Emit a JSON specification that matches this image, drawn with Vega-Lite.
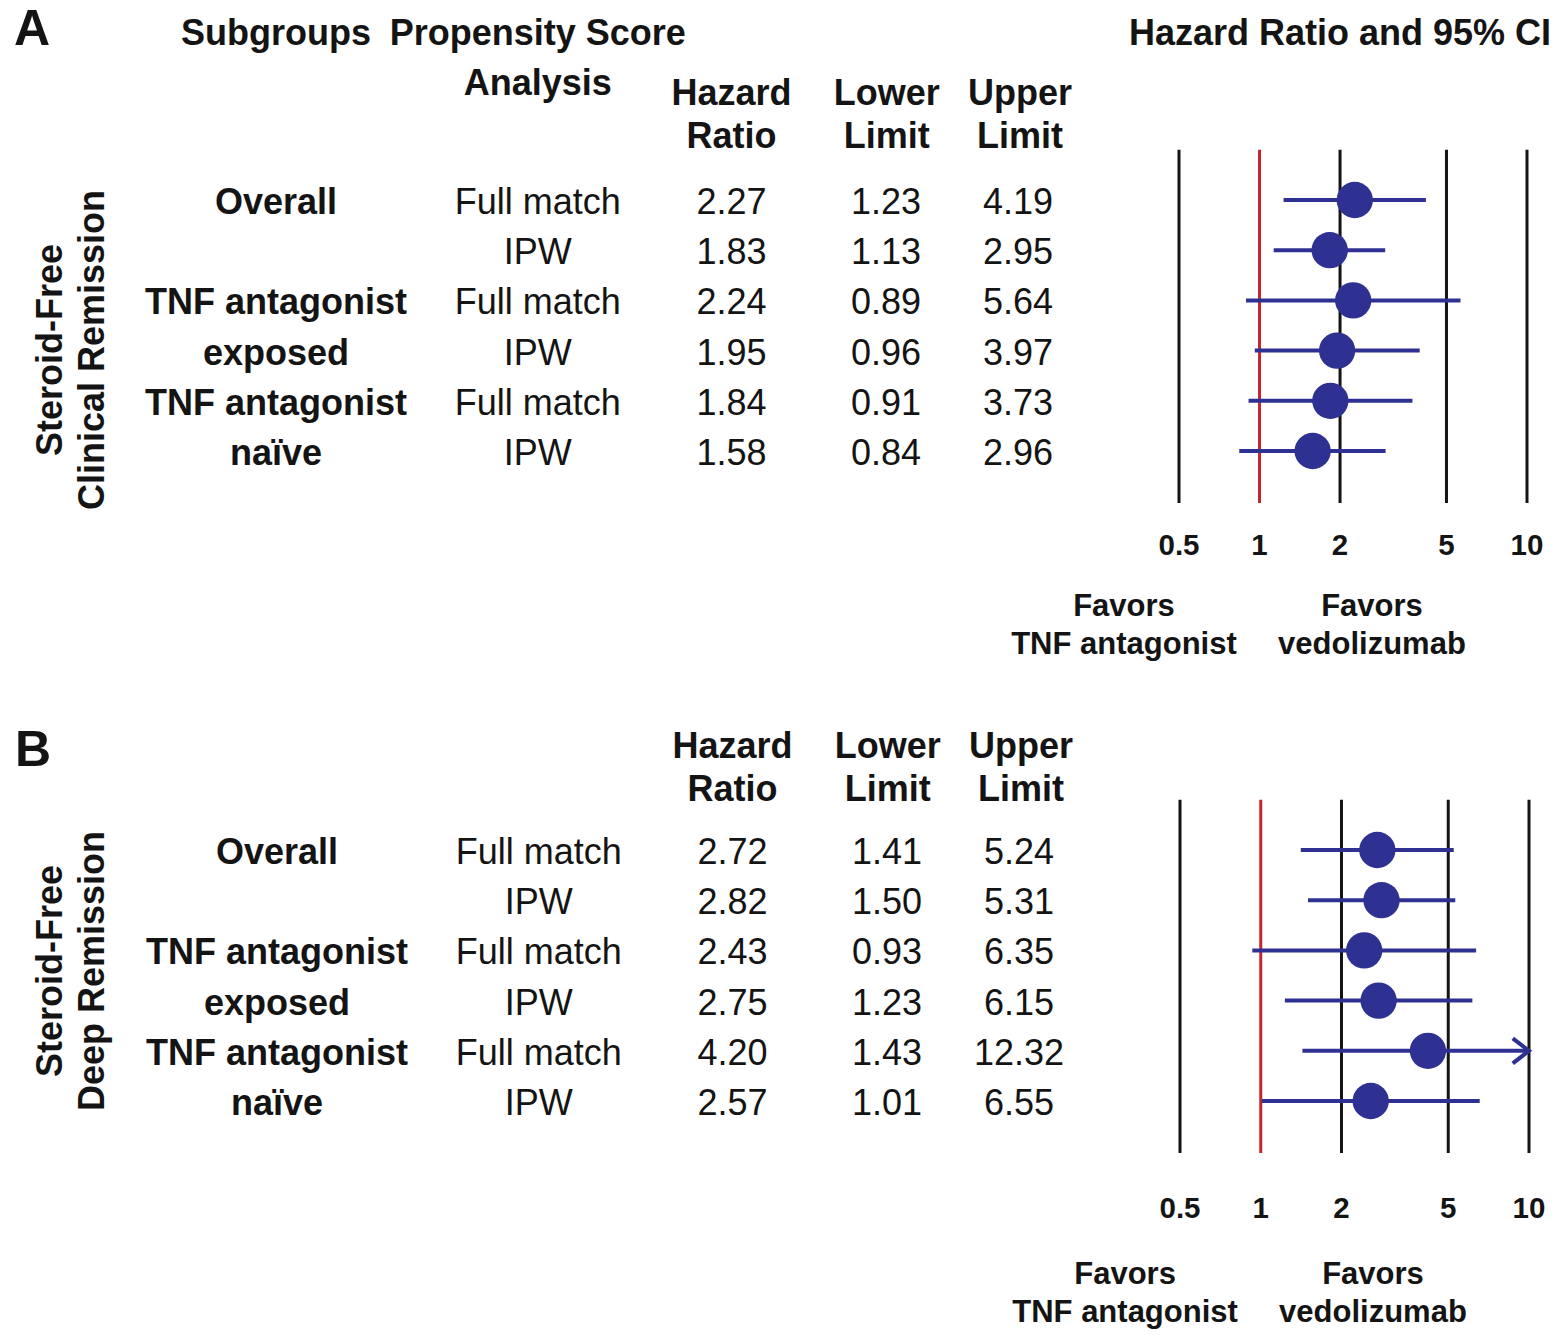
{
  "$schema": "https://vega.github.io/schema/vega-lite/v6.json",
  "padding": 0,
  "background": "#ffffff",
  "spacing": 0,
  "config": {
    "view": {"stroke": null},
    "font": "Liberation Sans",
    "text": {"font": "Liberation Sans", "color": "#141414", "dy": 3, "align": "center", "baseline": "middle"}
  },
  "datasets": {
    "A": [
      {"row": 1, "label": "Overall", "ana": "Full match", "hr": 2.27, "lo": 1.23, "up": 4.19},
      {"row": 2, "label": "", "ana": "IPW", "hr": 1.83, "lo": 1.13, "up": 2.95},
      {"row": 3, "label": "TNF antagonist", "ana": "Full match", "hr": 2.24, "lo": 0.89, "up": 5.64},
      {"row": 4, "label": "exposed", "ana": "IPW", "hr": 1.95, "lo": 0.96, "up": 3.97},
      {"row": 5, "label": "TNF antagonist", "ana": "Full match", "hr": 1.84, "lo": 0.91, "up": 3.73},
      {"row": 6, "label": "naïve", "ana": "IPW", "hr": 1.58, "lo": 0.84, "up": 2.96}
    ],
    "B": [
      {"row": 1, "label": "Overall", "ana": "Full match", "hr": 2.72, "lo": 1.41, "up": 5.24},
      {"row": 2, "label": "", "ana": "IPW", "hr": 2.82, "lo": 1.50, "up": 5.31},
      {"row": 3, "label": "TNF antagonist", "ana": "Full match", "hr": 2.43, "lo": 0.93, "up": 6.35},
      {"row": 4, "label": "exposed", "ana": "IPW", "hr": 2.75, "lo": 1.23, "up": 6.15},
      {"row": 5, "label": "TNF antagonist", "ana": "Full match", "hr": 4.20, "lo": 1.43, "up": 12.32},
      {"row": 6, "label": "naïve", "ana": "IPW", "hr": 2.57, "lo": 1.01, "up": 6.55}
    ],
    "ticks": [
      {"v": 0.5, "lab": "0.5"},
      {"v": 1, "lab": "1"},
      {"v": 2, "lab": "2"},
      {"v": 5, "lab": "5"},
      {"v": 10, "lab": "10"}
    ]
  },
  "resolve": {"scale": {"x": "independent", "y": "independent"}},
  "vconcat": [
    {
      "width": 1560,
      "height": 670,
      "resolve": {"scale": {"x": "independent"}},
      "layer": [
        {
          "data": {"name": "A"},
          "layer": [
            {"mark": {"type": "text", "fontWeight": "bold", "fontSize": 36},
             "encoding": {"x": {"datum": "Subgroups", "type": "nominal", "scale": {"type": "point", "domain": ["Subgroups", "Analysis", "Hazard Ratio", "Lower Limit", "Upper Limit"], "range": [276, 1019], "padding": 0}, "axis": null},
                          "y": {"field": "row", "type": "quantitative", "scale": {"domain": [1, 6], "range": [200, 451], "zero": false, "nice": false}, "axis": null},
                          "text": {"field": "label"}}},
            {"mark": {"type": "text", "fontSize": 36, "dx": 76},
             "encoding": {"x": {"datum": "Analysis", "type": "nominal", "axis": null},
                          "y": {"field": "row", "type": "quantitative", "axis": null},
                          "text": {"field": "ana"}}},
            {"mark": {"type": "text", "fontSize": 36, "dx": 84},
             "encoding": {"x": {"datum": "Hazard Ratio", "type": "nominal", "axis": null},
                          "y": {"field": "row", "type": "quantitative", "axis": null},
                          "text": {"field": "hr", "type": "quantitative", "format": ".2f"}}},
            {"mark": {"type": "text", "fontSize": 36, "dx": 52.75},
             "encoding": {"x": {"datum": "Lower Limit", "type": "nominal", "axis": null},
                          "y": {"field": "row", "type": "quantitative", "axis": null},
                          "text": {"field": "lo", "type": "quantitative", "format": ".2f"}}},
            {"mark": {"type": "text", "fontSize": 36, "dx": -1},
             "encoding": {"x": {"datum": "Upper Limit", "type": "nominal", "axis": null},
                          "y": {"field": "row", "type": "quantitative", "axis": null},
                          "text": {"field": "up", "type": "quantitative", "format": ".2f"}}},
            {"data": {"values": [{}]},
             "mark": {"type": "text", "fontWeight": "bold", "fontSize": 36},
             "encoding": {"x": {"datum": "Subgroups", "type": "nominal", "axis": null},
                          "y": {"datum": -2.367, "type": "quantitative", "axis": null},
                          "text": {"value": "Subgroups"}}},
            {"data": {"values": [{}]},
             "mark": {"type": "text", "fontWeight": "bold", "fontSize": 36, "dx": 76, "lineHeight": 50},
             "encoding": {"x": {"datum": "Analysis", "type": "nominal", "axis": null},
                          "y": {"datum": -2.367, "type": "quantitative", "axis": null},
                          "text": {"value": ["Propensity Score", "Analysis"]}}},
            {"data": {"values": [{}]},
             "mark": {"type": "text", "fontWeight": "bold", "fontSize": 36, "dx": 84, "lineHeight": 43},
             "encoding": {"x": {"datum": "Hazard Ratio", "type": "nominal", "axis": null},
                          "y": {"datum": -1.173, "type": "quantitative", "axis": null},
                          "text": {"value": ["Hazard", "Ratio"]}}},
            {"data": {"values": [{}]},
             "mark": {"type": "text", "fontWeight": "bold", "fontSize": 36, "dx": 53.5, "lineHeight": 43},
             "encoding": {"x": {"datum": "Lower Limit", "type": "nominal", "axis": null},
                          "y": {"datum": -1.173, "type": "quantitative", "axis": null},
                          "text": {"value": ["Lower", "Limit"]}}},
            {"data": {"values": [{}]},
             "mark": {"type": "text", "fontWeight": "bold", "fontSize": 36, "dx": 1, "lineHeight": 43},
             "encoding": {"x": {"datum": "Upper Limit", "type": "nominal", "axis": null},
                          "y": {"datum": -1.173, "type": "quantitative", "axis": null},
                          "text": {"value": ["Upper", "Limit"]}}},
            {"data": {"values": [{}]},
             "mark": {"type": "text", "fontWeight": "bold", "fontSize": 50, "dx": -244},
             "encoding": {"x": {"datum": "Subgroups", "type": "nominal", "axis": null},
                          "y": {"datum": -2.44, "type": "quantitative", "axis": null},
                          "text": {"value": "A"}}},
            {"data": {"values": [{}]},
             "mark": {"type": "text", "fontWeight": "bold", "fontSize": 36, "angle": 270, "dy": -225, "lineHeight": 42},
             "encoding": {"x": {"datum": "Subgroups", "type": "nominal", "axis": null},
                          "y": {"datum": 3.988, "type": "quantitative", "axis": null},
                          "text": {"value": ["Steroid-Free", "Clinical Remission"]}}}
          ]
        },
        {
          "layer": [
            {"data": {"name": "ticks"},
             "mark": {"type": "rule", "strokeWidth": 3},
             "encoding": {"x": {"field": "v", "type": "quantitative", "scale": {"type": "log", "domain": [0.5, 10], "range": [1179, 1527], "nice": false}, "axis": null},
                          "y": {"datum": 0, "type": "quantitative", "axis": null},
                          "y2": {"datum": 7.036},
                          "color": {"condition": {"test": "datum.v === 1", "value": "#c1272d"}, "value": "#141414"}}},
            {"data": {"name": "ticks"},
             "mark": {"type": "text", "fontWeight": "bold", "fontSize": 29.5},
             "encoding": {"x": {"field": "v", "type": "quantitative", "axis": null},
                          "y": {"datum": 7.83, "type": "quantitative", "axis": null},
                          "text": {"field": "lab"}}},
            {"data": {"values": [{}]},
             "mark": {"type": "text", "fontWeight": "bold", "fontSize": 36},
             "encoding": {"x": {"datum": 2, "type": "quantitative", "axis": null},
                          "y": {"datum": -2.367, "type": "quantitative", "axis": null},
                          "text": {"value": "Hazard Ratio and 95% CI"}}},
            {"data": {"values": [{}]},
             "mark": {"type": "text", "fontWeight": "bold", "fontSize": 31, "lineHeight": 38},
             "encoding": {"x": {"datum": 0.3113, "type": "quantitative", "axis": null},
                          "y": {"datum": 9.05, "type": "quantitative", "axis": null},
                          "text": {"value": ["Favors", "TNF antagonist"]}}},
            {"data": {"values": [{}]},
             "mark": {"type": "text", "fontWeight": "bold", "fontSize": 31, "lineHeight": 38},
             "encoding": {"x": {"datum": 2.633, "type": "quantitative", "axis": null},
                          "y": {"datum": 9.05, "type": "quantitative", "axis": null},
                          "text": {"value": ["Favors", "vedolizumab"]}}}
          ]
        },
        {
          "data": {"name": "A"},
          "layer": [
            {"mark": {"type": "rule", "color": "#2e3192", "strokeWidth": 4},
             "encoding": {"x": {"field": "lo", "type": "quantitative", "scale": {"type": "log", "domain": [0.5, 10], "range": [1179, 1527], "nice": false, "clamp": true}, "axis": null},
                          "x2": {"field": "up"},
                          "y": {"field": "row", "type": "quantitative", "axis": null}}},
            {"transform": [{"filter": "datum.up > 10"}],
             "mark": {"type": "point", "shape": "M-1.3,-1L0,0L-1.3,1", "filled": false, "size": 625, "stroke": "#2e3192", "strokeWidth": 4, "opacity": 1},
             "encoding": {"x": {"field": "up", "type": "quantitative", "axis": null},
                          "y": {"field": "row", "type": "quantitative", "axis": null}}},
            {"mark": {"type": "circle", "size": 1320, "opacity": 1, "color": "#2e3192"},
             "encoding": {"x": {"field": "hr", "type": "quantitative", "axis": null},
                          "y": {"field": "row", "type": "quantitative", "axis": null}}}
          ]
        }
      ]
    },
    {
      "width": 1560,
      "height": 669,
      "resolve": {"scale": {"x": "independent"}},
      "layer": [
        {
          "data": {"name": "B"},
          "layer": [
            {"mark": {"type": "text", "fontWeight": "bold", "fontSize": 36},
             "encoding": {"x": {"datum": "Subgroups", "type": "nominal", "scale": {"type": "point", "domain": ["Subgroups", "Analysis", "Hazard Ratio", "Lower Limit", "Upper Limit"], "range": [277, 1020], "padding": 0}, "axis": null},
                          "y": {"field": "row", "type": "quantitative", "scale": {"domain": [1, 6], "range": [180, 431], "zero": false, "nice": false}, "axis": null},
                          "text": {"field": "label"}}},
            {"mark": {"type": "text", "fontSize": 36, "dx": 76},
             "encoding": {"x": {"datum": "Analysis", "type": "nominal", "axis": null},
                          "y": {"field": "row", "type": "quantitative", "axis": null},
                          "text": {"field": "ana"}}},
            {"mark": {"type": "text", "fontSize": 36, "dx": 84},
             "encoding": {"x": {"datum": "Hazard Ratio", "type": "nominal", "axis": null},
                          "y": {"field": "row", "type": "quantitative", "axis": null},
                          "text": {"field": "hr", "type": "quantitative", "format": ".2f"}}},
            {"mark": {"type": "text", "fontSize": 36, "dx": 52.75},
             "encoding": {"x": {"datum": "Lower Limit", "type": "nominal", "axis": null},
                          "y": {"field": "row", "type": "quantitative", "axis": null},
                          "text": {"field": "lo", "type": "quantitative", "format": ".2f"}}},
            {"mark": {"type": "text", "fontSize": 36, "dx": -1},
             "encoding": {"x": {"datum": "Upper Limit", "type": "nominal", "axis": null},
                          "y": {"field": "row", "type": "quantitative", "axis": null},
                          "text": {"field": "up", "type": "quantitative", "format": ".2f"}}},
            {"data": {"values": [{}]},
             "mark": {"type": "text", "fontWeight": "bold", "fontSize": 36, "dx": 84, "lineHeight": 43},
             "encoding": {"x": {"datum": "Hazard Ratio", "type": "nominal", "axis": null},
                          "y": {"datum": -1.113, "type": "quantitative", "axis": null},
                          "text": {"value": ["Hazard", "Ratio"]}}},
            {"data": {"values": [{}]},
             "mark": {"type": "text", "fontWeight": "bold", "fontSize": 36, "dx": 53.5, "lineHeight": 43},
             "encoding": {"x": {"datum": "Lower Limit", "type": "nominal", "axis": null},
                          "y": {"datum": -1.113, "type": "quantitative", "axis": null},
                          "text": {"value": ["Lower", "Limit"]}}},
            {"data": {"values": [{}]},
             "mark": {"type": "text", "fontWeight": "bold", "fontSize": 36, "dx": 1, "lineHeight": 43},
             "encoding": {"x": {"datum": "Upper Limit", "type": "nominal", "axis": null},
                          "y": {"datum": -1.113, "type": "quantitative", "axis": null},
                          "text": {"value": ["Upper", "Limit"]}}},
            {"data": {"values": [{}]},
             "mark": {"type": "text", "fontWeight": "bold", "fontSize": 50, "dx": -244},
             "encoding": {"x": {"datum": "Subgroups", "type": "nominal", "axis": null},
                          "y": {"datum": -1.026, "type": "quantitative", "axis": null},
                          "text": {"value": "B"}}},
            {"data": {"values": [{}]},
             "mark": {"type": "text", "fontWeight": "bold", "fontSize": 36, "angle": 270, "dy": -226, "lineHeight": 42},
             "encoding": {"x": {"datum": "Subgroups", "type": "nominal", "axis": null},
                          "y": {"datum": 3.41, "type": "quantitative", "axis": null},
                          "text": {"value": ["Steroid-Free", "Deep Remission"]}}}
          ]
        },
        {
          "layer": [
            {"data": {"name": "ticks"},
             "mark": {"type": "rule", "strokeWidth": 3},
             "encoding": {"x": {"field": "v", "type": "quantitative", "scale": {"type": "log", "domain": [0.5, 10], "range": [1180, 1529], "nice": false}, "axis": null},
                          "y": {"datum": 0, "type": "quantitative", "axis": null},
                          "y2": {"datum": 7.036},
                          "color": {"condition": {"test": "datum.v === 1", "value": "#c1272d"}, "value": "#141414"}}},
            {"data": {"name": "ticks"},
             "mark": {"type": "text", "fontWeight": "bold", "fontSize": 29.5},
             "encoding": {"x": {"field": "v", "type": "quantitative", "axis": null},
                          "y": {"datum": 8.09, "type": "quantitative", "axis": null},
                          "text": {"field": "lab"}}},
            {"data": {"values": [{}]},
             "mark": {"type": "text", "fontWeight": "bold", "fontSize": 31, "lineHeight": 38},
             "encoding": {"x": {"datum": 0.312, "type": "quantitative", "axis": null},
                          "y": {"datum": 9.409, "type": "quantitative", "axis": null},
                          "text": {"value": ["Favors", "TNF antagonist"]}}},
            {"data": {"values": [{}]},
             "mark": {"type": "text", "fontWeight": "bold", "fontSize": 31, "lineHeight": 38},
             "encoding": {"x": {"datum": 2.62, "type": "quantitative", "axis": null},
                          "y": {"datum": 9.409, "type": "quantitative", "axis": null},
                          "text": {"value": ["Favors", "vedolizumab"]}}}
          ]
        },
        {
          "data": {"name": "B"},
          "layer": [
            {"mark": {"type": "rule", "color": "#2e3192", "strokeWidth": 4},
             "encoding": {"x": {"field": "lo", "type": "quantitative", "scale": {"type": "log", "domain": [0.5, 10], "range": [1180, 1529], "nice": false, "clamp": true}, "axis": null},
                          "x2": {"field": "up"},
                          "y": {"field": "row", "type": "quantitative", "axis": null}}},
            {"transform": [{"filter": "datum.up > 10"}],
             "mark": {"type": "point", "shape": "M-1.3,-1L0,0L-1.3,1", "filled": false, "size": 625, "stroke": "#2e3192", "strokeWidth": 4, "opacity": 1},
             "encoding": {"x": {"field": "up", "type": "quantitative", "axis": null},
                          "y": {"field": "row", "type": "quantitative", "axis": null}}},
            {"mark": {"type": "circle", "size": 1320, "opacity": 1, "color": "#2e3192"},
             "encoding": {"x": {"field": "hr", "type": "quantitative", "axis": null},
                          "y": {"field": "row", "type": "quantitative", "axis": null}}}
          ]
        }
      ]
    }
  ]
}
